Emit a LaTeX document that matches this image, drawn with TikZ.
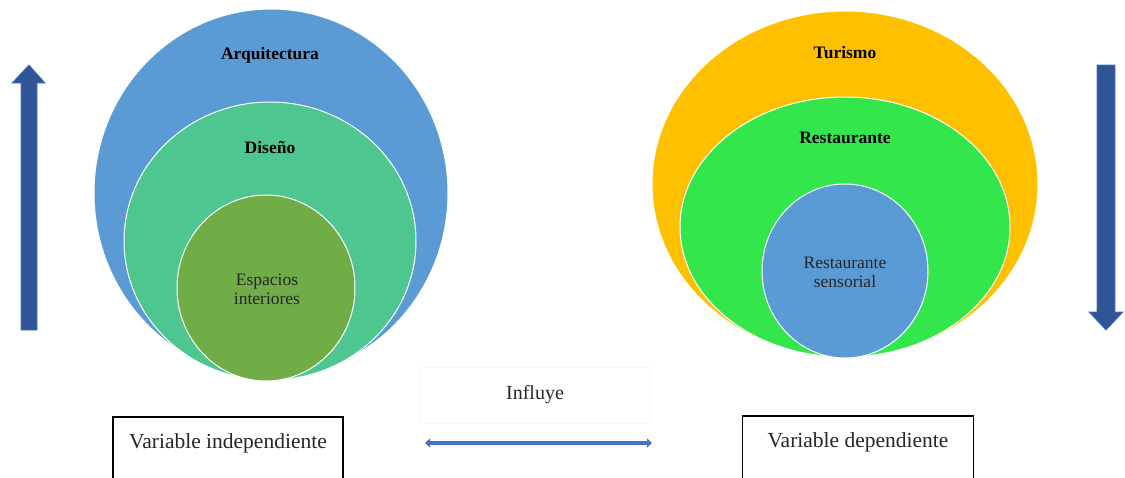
\documentclass[tikz,border=0pt]{standalone}
\usepackage{fontspec}
\setmainfont{Liberation Serif}
\usetikzlibrary{shapes.geometric,arrows.meta}
\definecolor{skyblue}{HTML}{5B9BD5}
\definecolor{mintgreen}{HTML}{4DC68F}
\definecolor{olivegreen}{HTML}{70AD47}
\definecolor{amber}{HTML}{FFC000}
\definecolor{brightgreen}{HTML}{33E64B}
\definecolor{arrowdark}{HTML}{2F5597}
\definecolor{arrowlight}{HTML}{4472C4}
\tikzset{
  ring/.style={ellipse, draw=white, line width=1pt, inner sep=0pt},
  ringtitle/.style={font=\fontsize{17.5}{19}\selectfont\bfseries, text=black},
  ringtext/.style={font=\fontsize{17.5}{19}\selectfont, align=center, text=black!85},
  varbox/.style={draw=black, line width=1.3pt, fill=white, minimum width=230pt, minimum height=76pt},
  vartext/.style={font=\fontsize{21.5}{23}\selectfont, text=black!85},
  infbox/.style={draw=black!3, fill=white, minimum width=229pt, minimum height=56pt, font=\fontsize{20}{22}\selectfont, text=black!85},
  bigarrow/.style={fill=arrowdark, draw=arrowlight, line width=0.8pt},
  linkarrow/.style={draw=arrowlight, line width=3.5pt, {Triangle[length=5pt,width=9pt]}-{Triangle[length=5pt,width=9pt]}},
}

\begin{document}
\begin{tikzpicture}[x=1pt,y=-1pt]
\useasboundingbox (0,0) rectangle (1125,477);
\clip (0,0) rectangle (1125,477);
% independent variable
\node[ring, fill=skyblue, minimum width=354pt, minimum height=368pt] (arq) at (271,193) {};
\node[ring, fill=mintgreen, minimum width=292pt, minimum height=278pt] (dis) at (270,241) {};
\node[ring, fill=olivegreen, minimum width=178pt, minimum height=186pt] (esp) at (266,288) {};
\node[ringtitle] (arqlbl) at (270,55) {Arquitectura};
\node[ringtitle] (dislbl) at (270,147) {Diseño};
\node[ringtext] (esplbl) at (267,289) {Espacios\\interiores};
% dependent variable
\node[ring, fill=amber, minimum width=386pt, minimum height=346pt] (tur) at (845,184) {};
\node[ring, fill=brightgreen, minimum width=330pt, minimum height=260pt] (res) at (845,227) {};
\node[ring, fill=skyblue, minimum width=166pt, minimum height=174pt] (sen) at (845,271) {};
\node[ringtitle] (turlbl) at (845,53) {Turismo};
\node[ringtitle] (reslbl) at (845,138) {Restaurante};
\node[ringtext] (senlbl) at (845,272) {Restaurante\\sensorial};
% block arrows
\draw[bigarrow] (21,330) -- (37,330) -- (37,83) -- (45,83) -- (29,65) -- (12,83) -- (21,83) -- cycle;
\draw[bigarrow] (1097,65) -- (1115,65) -- (1115,312) -- (1123,312) -- (1106,330) -- (1089,312) -- (1097,312) -- cycle;
% boxes
\node[varbox] (vind) at (228,455) {};
\node[vartext] (vindlbl) at (228,443) {Variable independiente};
\node[varbox, minimum width=231pt] (vdep) at (858,454) {};
\node[vartext] (vdeplbl) at (858,442) {Variable dependiente};
\node[infbox] (inf) at (535,395) {Influye};
\coordinate (infl) at (425,443);
\coordinate (infr) at (652,443);
\draw[linkarrow] (infl) -- (infr);
\end{tikzpicture}
\end{document}
